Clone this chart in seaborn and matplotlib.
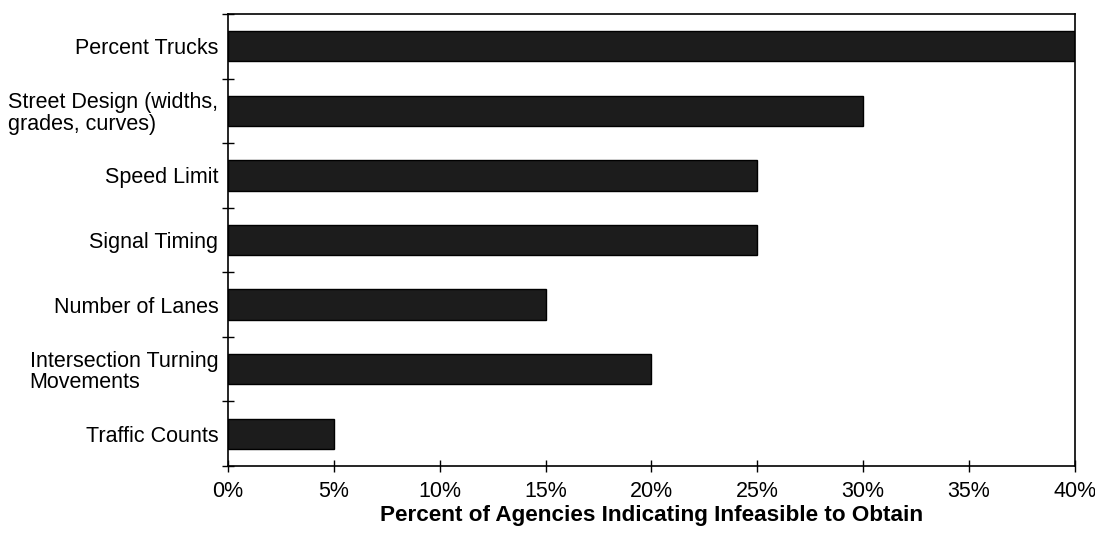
import numpy as np
import pandas as pd
import seaborn as sns
import matplotlib.pyplot as plt
from matplotlib.ticker import PercentFormatter, FixedLocator

# datos
categories = [
    "Percent Trucks",
    "Street Design (widths,\ngrades, curves)",
    "Speed Limit",
    "Signal Timing",
    "Number of Lanes",
    "Intersection Turning\nMovements",
    "Traffic Counts",
]
percents = [40, 30, 25, 25, 15, 20, 5]

df = pd.DataFrame({"Category": categories, "Percent": percents})

sns.set_theme(style="white")
plt.rcParams["font.family"] = ["Liberation Sans", "DejaVu Sans"]

fig = plt.figure(figsize=(10.95, 5.4), dpi=100)
ax = fig.add_axes([0.2082, 0.137, 0.7735, 0.837])

sns.barplot(data=df, x="Percent", y="Category", orient="h", color="#1c1c1c",
            edgecolor="black", linewidth=1, width=0.47, saturation=1, ax=ax)

ax.set_xlim(0, 40)
ax.set_ylim(len(categories) - 0.5, -0.5)
ax.xaxis.set_major_formatter(PercentFormatter(decimals=0))
ax.set_xticks(range(0, 45, 5))

# ticks de separacion entre categorias
ax.yaxis.set_minor_locator(FixedLocator(np.arange(-0.5, len(categories), 1)))
ax.tick_params(axis="y", which="major", length=0, labelsize=15.5, colors="black", pad=7)
ax.tick_params(axis="y", which="minor", length=8, width=1, direction="inout", left=True, color="black")
ax.tick_params(axis="x", which="major", length=8, width=1, direction="inout", bottom=True,
               labelsize=15.5, colors="black", pad=7)
for lbl in ax.get_yticklabels():
    lbl.set_multialignment("left")
    lbl.set_linespacing(1.05)

for s in ax.spines.values():
    s.set_color("black")
    s.set_linewidth(1.2)

ax.set_ylabel("")
ax.set_xlabel("Percent of Agencies Indicating Infeasible to Obtain",
              fontsize=16.2, fontweight="bold", labelpad=2, color="black")

fig.savefig("out.png", dpi=100)
